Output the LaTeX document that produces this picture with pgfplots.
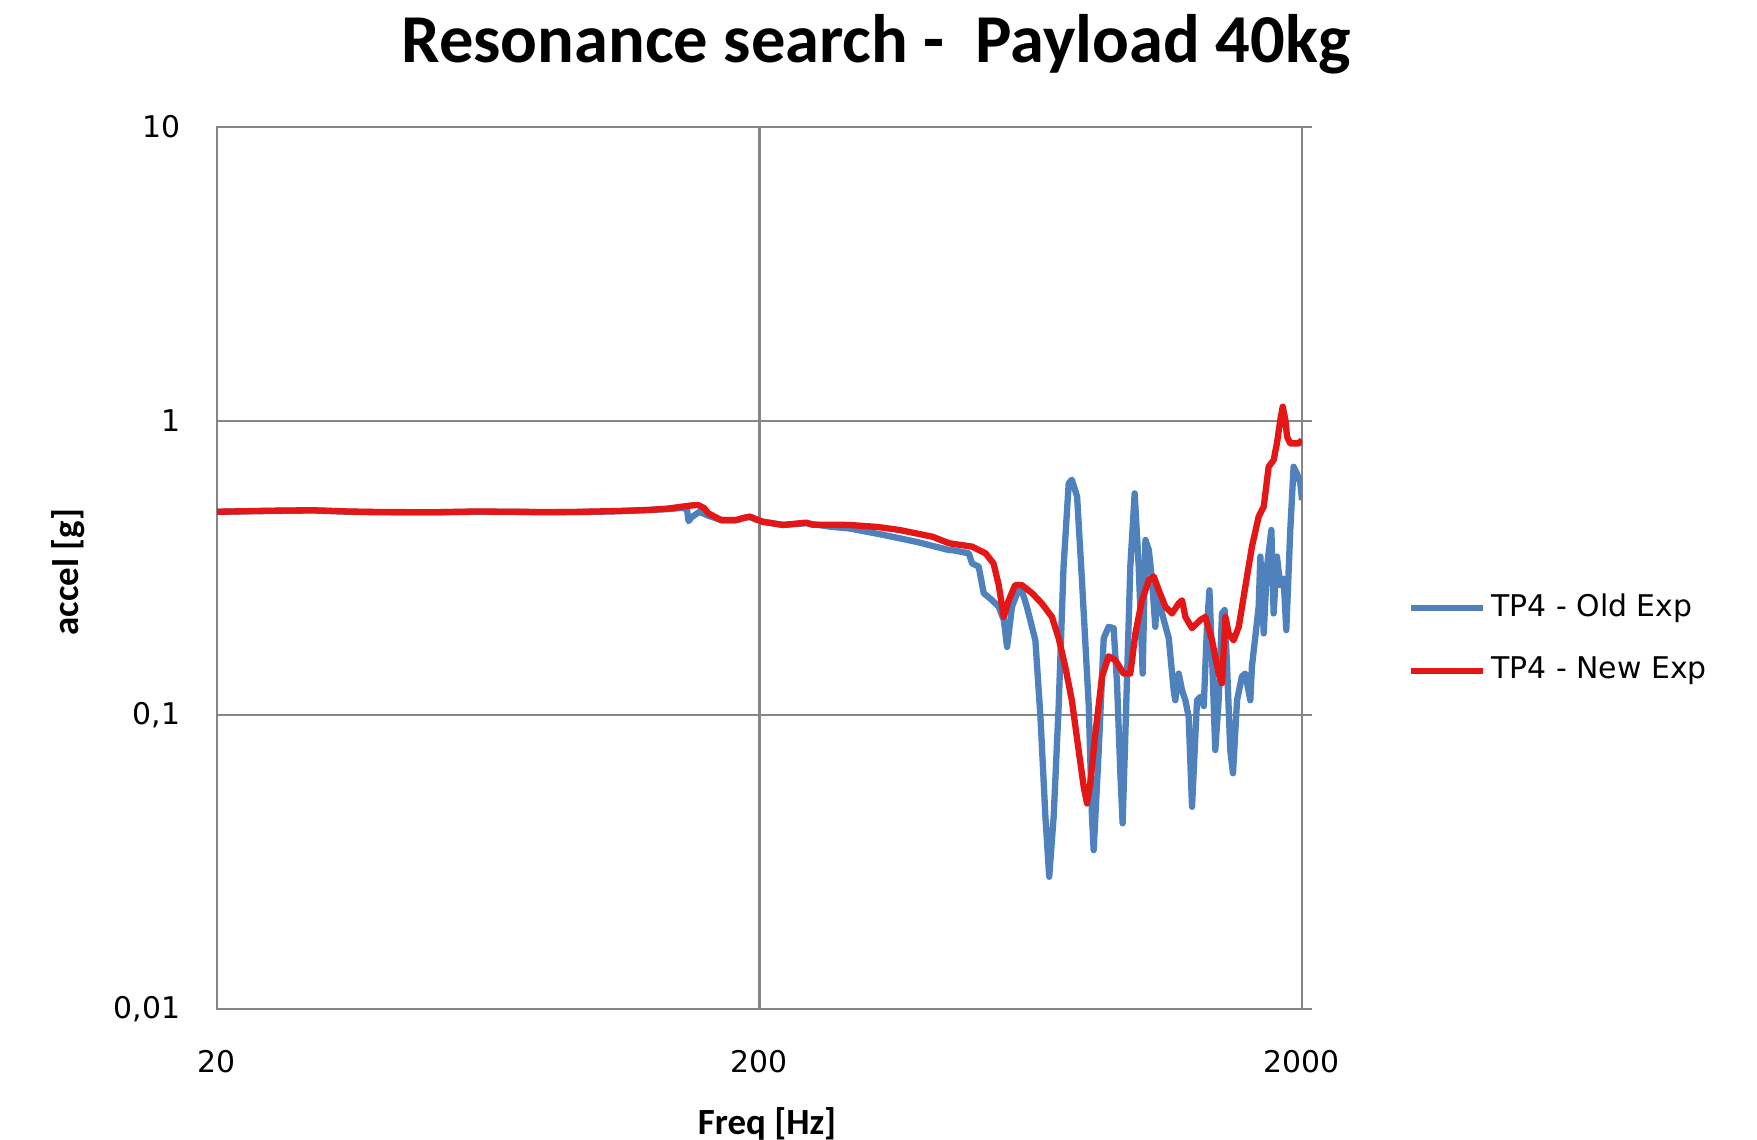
\documentclass[border=0pt]{standalone}
\usepackage{fontspec}
\setmainfont{DejaVu Sans}
\newfontfamily\carlito{Carlito}
\usepackage{pgfplots}
\pgfplotsset{compat=1.18}
\definecolor{oldblue}{RGB}{79,129,189}
\definecolor{newred}{RGB}{228,22,22}
\definecolor{gridgray}{RGB}{134,134,134}
\begin{document}
\begin{tikzpicture}
\path[use as bounding box] (-2.17cm,-1.313cm) rectangle (15.40cm,10.087cm);
\begin{axis}[
  at={(0,0)}, anchor=south west,
  scale only axis, width=10.85cm, height=8.82cm,
  xmode=log, ymode=log,
  xmin=20, xmax=2000, ymin=0.01, ymax=10,
  xtick={20,200,2000}, xticklabels={20,200,2000},
  ytick={0.01,0.1,1,10}, yticklabels={{0,01},{0,1},{1},{10}},
  xminorticks=false, yminorticks=false,
  ytick pos=right, yticklabel pos=left, xtick pos=bottom, tick align=outside, major tick length=0.1cm,
  tick style={gridgray, line width=0.6pt},
  xtick style={draw=none},
  grid=major, grid style={gridgray, line width=0.6pt},
  axis line style={gridgray, line width=0.6pt},
  ticklabel style={font=\fontsize{8.5}{10}\selectfont, inner sep=0pt},
  yticklabel style={anchor=east, xshift=-0.26cm},
  xticklabel style={anchor=north, yshift=-0.31cm},
  xlabel={\carlito\bfseries Freq [Hz]},
  ylabel={\carlito\bfseries accel [g]},
  every axis x label/.style={at={(axis description cs:0.507,-0.131)}, anchor=center, font=\fontsize{10.5}{12}\selectfont},
  every axis y label/.style={at={(axis description cs:-0.137,0.495)}, anchor=center, rotate=90, font=\fontsize{10.5}{12}\selectfont},
  legend cell align=left,
  legend style={at={(axis description cs:1.097,0.419)}, anchor=west, draw=none, fill=none,
    inner sep=0pt, font=\fontsize{8.5}{10}\selectfont, row sep=7pt, nodes={inner sep=1.5pt}},
  legend image code/.code={\draw[#1] (0cm,0cm) -- (0.72cm,0cm);},
]
\addplot[oldblue, line width=1.8pt, line join=round, no markers] coordinates {
(20,0.490)(25,0.493)(30,0.495)(35,0.490)(40,0.488)(50,0.488)(60,0.490)(70,0.490)(80,0.488)(90,0.489)(100,0.490)(110,0.492)(125,0.497)(135,0.500)(144,0.505)(147,0.500)(148,0.455)(150,0.470)(155,0.490)(161,0.475)(170,0.459)(181,0.459)(188,0.468)(192,0.470)(197,0.462)(203,0.453)(221,0.442)(244,0.448)(270,0.436)(293,0.430)(338,0.409)(390,0.387)(447,0.363)(453,0.363)(486,0.354)(493,0.327)(507,0.319)(518,0.259)(537,0.245)(552,0.233)(564,0.210)(572,0.170)(584,0.233)(597,0.259)(605,0.272)(614,0.252)(622,0.233)(631,0.210)(645,0.179)(659,0.0985)(673,0.045)(684,0.0281)(697,0.045)(712,0.107)(727,0.319)(743,0.612)(753,0.630)(770,0.552)(786,0.287)(809,0.107)(820,0.045)(826,0.0346)(844,0.0758)(862,0.182)(880,0.199)(899,0.197)(912,0.128)(925,0.0632)(934,0.0427)(945,0.0864)(965,0.319)(983,0.566)(1000,0.319)(1017,0.138)(1029,0.393)(1044,0.363)(1058,0.287)(1073,0.199)(1081,0.265)(1104,0.221)(1136,0.182)(1160,0.121)(1168,0.112)(1185,0.138)(1202,0.121)(1219,0.112)(1236,0.0985)(1254,0.0486)(1281,0.112)(1299,0.115)(1318,0.107)(1336,0.199)(1350,0.265)(1365,0.158)(1384,0.0758)(1404,0.112)(1424,0.221)(1440,0.227)(1455,0.146)(1475,0.0758)(1492,0.0632)(1518,0.112)(1550,0.135)(1572,0.138)(1606,0.112)(1617,0.146)(1664,0.233)(1676,0.345)(1700,0.189)(1724,0.319)(1756,0.425)(1773,0.221)(1798,0.345)(1824,0.276)(1850,0.290)(1871,0.194)(1903,0.425)(1930,0.697)(1958,0.660)(1986,0.612)(2000,0.537)
};
\addlegendentry{TP4 - Old Exp}
\addplot[newred, line width=1.8pt, line join=round, no markers] coordinates {
(20,0.490)(25,0.494)(30,0.496)(35,0.491)(40,0.489)(50,0.488)(60,0.491)(70,0.490)(80,0.489)(90,0.489)(100,0.491)(110,0.493)(125,0.497)(135,0.502)(144,0.510)(150,0.515)(154,0.517)(158,0.505)(161,0.484)(170,0.459)(181,0.459)(188,0.468)(192,0.472)(197,0.462)(203,0.453)(221,0.442)(244,0.450)(250,0.443)(293,0.442)(330,0.435)(362,0.425)(417,0.403)(447,0.383)(493,0.373)(522,0.354)(540,0.327)(552,0.276)(564,0.215)(576,0.245)(592,0.276)(609,0.276)(636,0.259)(663,0.239)(692,0.215)(712,0.182)(732,0.146)(753,0.112)(775,0.0758)(792,0.0567)(803,0.0499)(814,0.0584)(832,0.0864)(856,0.135)(880,0.158)(906,0.153)(938,0.138)(965,0.138)(986,0.189)(1014,0.245)(1044,0.287)(1066,0.295)(1089,0.265)(1120,0.233)(1152,0.221)(1185,0.239)(1202,0.245)(1219,0.215)(1254,0.197)(1299,0.210)(1327,0.215)(1365,0.179)(1404,0.138)(1424,0.128)(1445,0.215)(1465,0.189)(1496,0.179)(1529,0.199)(1572,0.272)(1617,0.373)(1664,0.472)(1700,0.510)(1736,0.697)(1773,0.735)(1798,0.837)(1824,1.005)(1843,1.116)(1864,1.005)(1877,0.882)(1903,0.837)(1972,0.837)(2000,0.860)
};
\addlegendentry{TP4 - New Exp}
\end{axis}
\node[anchor=center, font=\carlito\bfseries\fontsize{19.5}{22}\selectfont] at (6.59cm,9.64cm) {Resonance search -\ \ Payload 40kg};
\end{tikzpicture}
\end{document}
